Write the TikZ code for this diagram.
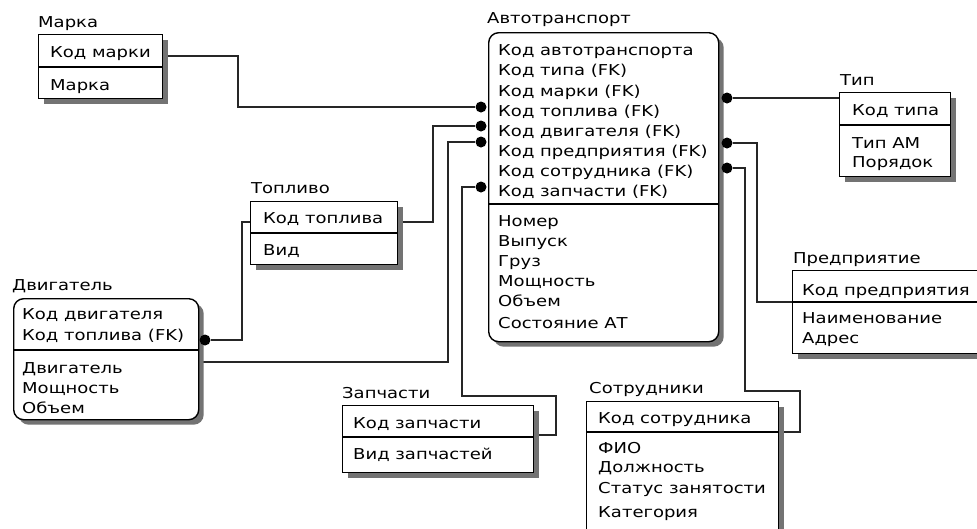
\documentclass[tikz,border=0pt]{standalone}
\usepackage{fontspec}
\setmainfont{DejaVu Sans}[FakeStretch=1.2]
\usetikzlibrary{calc,shadows}
\pgfdeclarelayer{canvas}
\pgfdeclarelayer{background}
\pgfsetlayers{canvas,background,main}

\begin{document}
\begin{tikzpicture}[x=1pt,y=-1pt,
  entity/.style={draw=black, line width=1.4pt, fill=white, anchor=north west, inner sep=0pt,
    drop shadow={shadow xshift=5pt, shadow yshift=-5pt, fill=black!55, opacity=1}},
  divider/.style={draw=black, line width=1.3pt},
  txt/.style={anchor=base west, inner sep=0pt, font=\fontsize{15pt}{17pt}\selectfont},
  link/.style={draw=black!85, line width=1.2pt},
  dot/.style={circle, fill=black, inner sep=0pt, minimum size=11pt}
]
\clip (0,0) rectangle (977,528);
\begin{pgfonlayer}{canvas}
\fill[white] (0,0) rectangle (977,528);
\end{pgfonlayer}

% ---------- entities ----------
\node[entity, minimum width=124pt, minimum height=64pt] (marka) at (38,34) {};
\draw[divider] ($(marka.north west)+(0,33)$) -- ($(marka.north east)+(0,33)$);

\node[entity, rounded corners=10pt, minimum width=230pt, minimum height=309pt] (avto) at (488,32) {};
\draw[divider] ($(avto.north west)+(0,172)$) -- ($(avto.north east)+(0,172)$);

\node[entity, minimum width=111pt, minimum height=84pt] (tip) at (839,92) {};
\draw[divider] ($(tip.north west)+(0,33)$) -- ($(tip.north east)+(0,33)$);

\node[entity, minimum width=147pt, minimum height=63pt] (topl) at (250,201) {};
\draw[divider] ($(topl.north west)+(0,32)$) -- ($(topl.north east)+(0,32)$);

\node[entity, rounded corners=10pt, minimum width=185pt, minimum height=121pt] (dvig) at (13,298) {};
\draw[divider] ($(dvig.north west)+(0,52)$) -- ($(dvig.north east)+(0,52)$);

\node[entity, minimum width=191pt, minimum height=67pt] (zap) at (342,405) {};
\draw[divider] ($(zap.north west)+(0,32)$) -- ($(zap.north east)+(0,32)$);

\node[entity, minimum width=192pt, minimum height=140pt] (sotr) at (586,401) {};
\draw[divider] ($(sotr.north west)+(0,31)$) -- ($(sotr.north east)+(0,31)$);

\node[entity, minimum width=200pt, minimum height=83pt] (pred) at (792,270) {};
\draw[divider] ($(pred.north west)+(0,32)$) -- ($(pred.north east)+(0,32)$);

% ---------- titles and attributes ----------
\node[txt] (marka-n) at (38,27.5) {Марка};
\node[txt] (marka-1) at (50,57) {Код марки};
\node[txt] (marka-2) at (50,90) {Марка};

\node[txt] (avto-n) at (487,23) {Автотранспорт};
\node[txt] (avto-1) at (498,55) {Код автотранспорта};
\node[txt] (avto-2) at (498,75.5) {Код типа (FK)};
\node[txt] (avto-3) at (498,96) {Код марки (FK)};
\node[txt] (avto-4) at (498,116) {Код топлива (FK)};
\node[txt] (avto-5) at (498,136.5) {Код двигателя (FK)};
\node[txt] (avto-6) at (498,156.5) {Код предприятия (FK)};
\node[txt] (avto-7) at (498,176.5) {Код сотрудника (FK)};
\node[txt] (avto-8) at (498,196.5) {Код запчасти (FK)};
\node[txt] (avto-9) at (498,226.5) {Номер};
\node[txt] (avto-10) at (498,246.5) {Выпуск};
\node[txt] (avto-11) at (498,266.5) {Груз};
\node[txt] (avto-12) at (498,286.5) {Мощность};
\node[txt] (avto-13) at (498,306.5) {Объем};
\node[txt] (avto-14) at (498,328) {Состояние АТ};

\node[txt] (tip-n) at (840,85) {Тип};
\node[txt] (tip-1) at (852,115) {Код типа};
\node[txt] (tip-2) at (852,148) {Тип АМ};
\node[txt] (tip-3) at (852,167) {Порядок};

\node[txt] (topl-n) at (251,193) {Топливо};
\node[txt] (topl-1) at (263,223) {Код топлива};
\node[txt] (topl-2) at (263,255) {Вид};

\node[txt] (dvig-n) at (12,290) {Двигатель};
\node[txt] (dvig-1) at (22,319) {Код двигателя};
\node[txt] (dvig-2) at (22,340) {Код топлива (FK)};
\node[txt] (dvig-3) at (22,373) {Двигатель};
\node[txt] (dvig-4) at (22,393) {Мощность};
\node[txt] (dvig-5) at (22,413) {Объем};

\node[txt] (zap-n) at (342,398) {Запчасти};
\node[txt] (zap-1) at (353,428) {Код запчасти};
\node[txt] (zap-2) at (353,459) {Вид запчастей};

\node[txt] (sotr-n) at (589,393) {Сотрудники};
\node[txt] (sotr-1) at (598,423) {Код сотрудника};
\node[txt] (sotr-2) at (598,453) {ФИО};
\node[txt] (sotr-3) at (598,472) {Должность};
\node[txt] (sotr-4) at (598,493) {Статус занятости};
\node[txt] (sotr-5) at (598,517) {Категория};

\node[txt] (pred-n) at (793,263) {Предприятие};
\node[txt] (pred-1) at (802,295) {Код предприятия};
\node[txt] (pred-2) at (802,323) {Наименование};
\node[txt] (pred-3) at (802,343) {Адрес};

% ---------- relationship ends ----------
\node[dot] (dm) at (481,107) {};
\node[dot] (dk) at (481,126) {};
\node[dot] (dg) at (481,142) {};
\node[dot] (dz) at (481,187) {};
\node[dot] (dt) at (727,98) {};
\node[dot] (dp) at (727,143) {};
\node[dot] (ds) at (727,168) {};
\node[dot] (dd) at (205,340) {};

% ---------- relationships ----------
\begin{pgfonlayer}{background}
\draw[link] (marka.east |- 0,56) -| (238,0 |- dm) -- (dm);
\draw[link] (dt) -- (tip.west |- dt);
\draw[link] (topl.east |- 0,222) -| (433,0 |- dk) -- (dk);
\draw[link] (topl.west |- 0,222) -| (242,0 |- dd) -- (dd);
\draw[link] (dvig.east |- 0,362) -| (448,0 |- dg) -- (dg);
\draw[link] (dz) -- (462,0 |- dz) -- (462,396) -- (556,396) -- (556,435) -- (zap.east |- 0,435);
\draw[link] (dp) -- (757,0 |- dp) -- (757,302) -- (pred.west |- 0,302);
\draw[link] (ds) -- (745,0 |- ds) -- (745,391) -- (800,391) -- (800,432) -- (sotr.east |- 0,432);
\end{pgfonlayer}
\end{tikzpicture}
\end{document}
